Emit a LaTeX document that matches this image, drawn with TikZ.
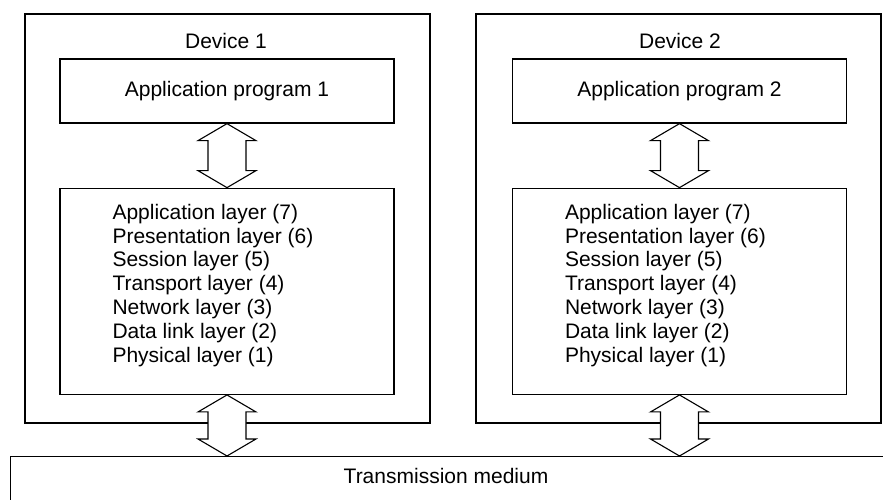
\documentclass[tikz,border=0pt]{standalone}
\usepackage{fontspec}
\setmainfont{Liberation Sans}
\usetikzlibrary{positioning,calc}
\tikzset{
  % common text size
  every node/.append style={font=\fontsize{21}{23.8}\selectfont},
  % device frame
  device/.style={draw, line width=1.3pt, minimum width=405pt, minimum height=409pt, inner sep=0pt},
  % inner boxes
  appbox/.style={draw, line width=1.3pt, minimum width=334pt, minimum height=64pt, inner sep=0pt},
  osibox/.style={appbox, minimum height=206pt},
  % layer list
  stack/.style={align=left, inner sep=0pt},
  % hollow double arrow
  dbl/.style={draw, line width=1.1pt, fill=white, line join=miter},
}
% hollow double arrow between two points, top to bottom
\newcommand{\hollowarrow}[2]{%
  \path (#1) coordinate (t) (#2) coordinate (b);
  \draw[dbl] (t) -- ($(t)+(29,-17)$) -- ($(t)+(19,-17)$) -- ($(b)+(19,17)$)
    -- ($(b)+(29,17)$) -- (b) -- ($(b)+(-29,17)$) -- ($(b)+(-19,17)$)
    -- ($(t)+(-19,-17)$) -- ($(t)+(-29,-17)$) -- cycle;
}

\begin{document}
\begin{tikzpicture}[x=1pt, y=1pt]
  \useasboundingbox (0,0) rectangle (883,500);
  \clip (0,0) rectangle (883,500);

  % Device 1
  \node[device] (dev1) at (227.5,281.5) {};
  \node (title1) at (226,459) {Device 1};
  \node[appbox] (app1) at (227,409) {Application program 1};
  \node[osibox, below=64pt of app1] (osi1) {};
  \node[stack, anchor=west] (list1) at ($(osi1.west)+(53,6)$) {Application layer (7)\\Presentation layer (6)\\Session layer (5)\\Transport layer (4)\\Network layer (3)\\Data link layer (2)\\Physical layer (1)};

  % Device 2
  \node[device] (dev2) at (678.5,281.5) {};
  \node (title2) at (680,459) {Device 2};
  \node[appbox] (app2) at (679.5,409) {Application program 2};
  \node[osibox, below=64pt of app2] (osi2) {};
  \node[stack, anchor=west] (list2) at ($(osi2.west)+(53,6)$) {Application layer (7)\\Presentation layer (6)\\Session layer (5)\\Transport layer (4)\\Network layer (3)\\Data link layer (2)\\Physical layer (1)};

  % Medium
  \node[draw, line width=1.3pt, minimum width=890pt, minimum height=74pt, inner sep=0pt, anchor=north west] (medium) at (10,44) {};
  \node (mtext) at (446,24) {Transmission medium};

  % Arrows
  \hollowarrow{app1.south}{osi1.north}
  \hollowarrow{app2.south}{osi2.north}
  \hollowarrow{osi1.south}{osi1.south |- medium.north}
  \hollowarrow{osi2.south}{osi2.south |- medium.north}
\end{tikzpicture}
\end{document}
